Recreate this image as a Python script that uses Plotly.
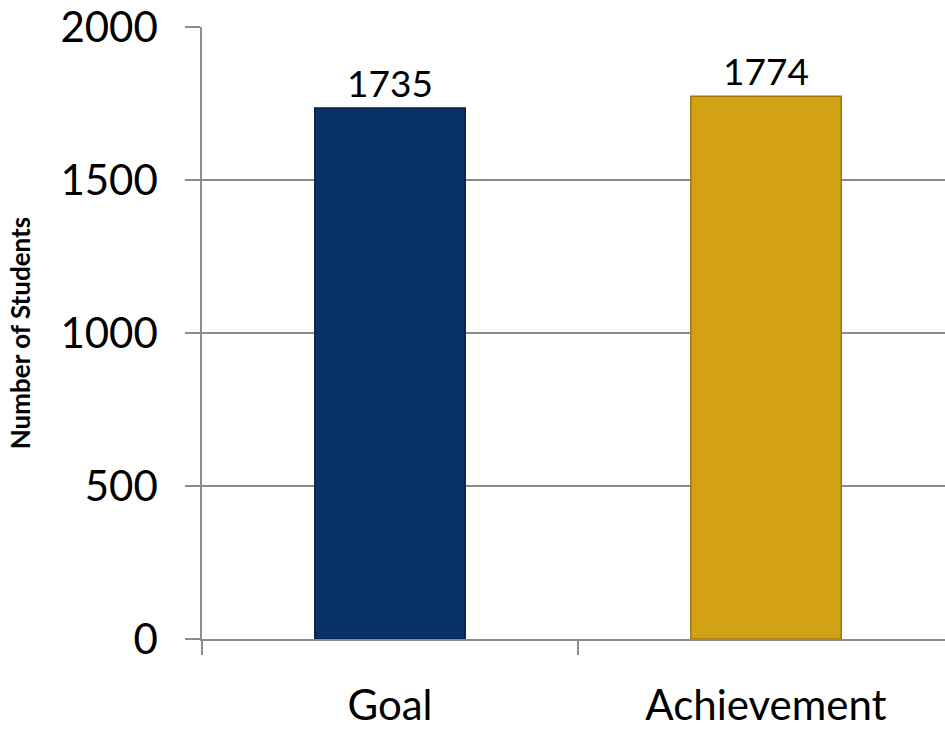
import plotly.graph_objects as go

categories = ["Goal", "Achievement"]
values = [1735, 1774]
bar_colors = ["#083268", "#D2A114"]
bar_edges = ["#051F44", "#9E780C"]
y_ticks = [0, 500, 1000, 1500, 2000]

fig = go.Figure()
fig.add_trace(go.Bar(
    x=categories,
    y=values,
    width=0.4,
    marker=dict(color=bar_colors, line=dict(color=bar_edges, width=1.5)),
    text=[str(v) for v in values],
    textposition="outside",
    textfont=dict(family="Lato", size=37, color="black"),
    cliponaxis=False,
    hoverinfo="skip",
))

fig.update_layout(
    width=945,
    height=733,
    margin=dict(l=202, r=0, t=27, b=94, autoexpand=False),
    paper_bgcolor="white",
    plot_bgcolor="white",
    showlegend=False,
    font=dict(family="Lato", color="black"),
    bargap=0.6,
)

fig.update_yaxes(
    range=[0, 2000],
    tickvals=y_ticks,
    ticktext=[str(t) for t in y_ticks],
    tickfont=dict(family="Lato", size=42, color="black"),
    showgrid=True,
    gridcolor="#8C8C8C",
    gridwidth=1.5,
    showline=True,
    linecolor="#8C8C8C",
    linewidth=1.5,
    ticks="outside",
    ticklen=15,
    tickwidth=1.5,
    tickcolor="#8C8C8C",
    ticklabelstandoff=19,
    zeroline=False,
    automargin=False,
    title=dict(text="<b>Number of Students</b>",
               font=dict(family="Lato", size=26, color="black"),
               standoff=22),
)

fig.update_xaxes(
    range=[-0.5, 1.476],
    tickfont=dict(family="Lato", size=42, color="black"),
    showgrid=False,
    showline=True,
    linecolor="#8C8C8C",
    linewidth=1.5,
    ticks="outside",
    tickson="boundaries",
    ticklen=14,
    tickwidth=1.5,
    tickcolor="#8C8C8C",
    ticklabelstandoff=29,
    automargin=False,
)

fig.write_html("out.html")
